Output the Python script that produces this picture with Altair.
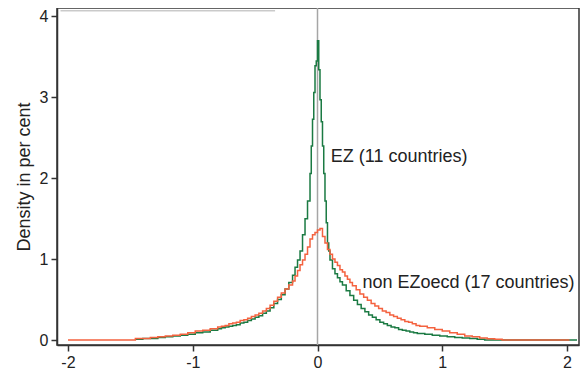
import altair as alt
import pandas as pd

# EZ (11 countries): step histogram, bin left edges and densities
ez_x = [-1.46, -1.40, -1.34, -1.28, -1.22, -1.16, -1.10, -1.04, -0.98, -0.92, -0.86,
        -0.80, -0.77, -0.74, -0.71, -0.68, -0.65, -0.62, -0.59, -0.56, -0.53,
        -0.50, -0.47, -0.44, -0.41, -0.38, -0.35, -0.32, -0.29, -0.26, -0.23,
        -0.20, -0.18, -0.16, -0.14, -0.12, -0.10, -0.08,
        -0.06, -0.05, -0.04, -0.03, -0.02, -0.01, 0.00, 0.01, 0.02, 0.03,
        0.04, 0.05, 0.06, 0.07, 0.08, 0.09,
        0.10, 0.12, 0.14, 0.16, 0.18,
        0.20, 0.23, 0.26, 0.29, 0.32, 0.35, 0.38, 0.41, 0.44, 0.47,
        0.50, 0.53, 0.56, 0.59, 0.62, 0.65, 0.68, 0.71, 0.74, 0.77,
        0.80, 0.86, 0.92, 0.98, 1.04, 1.10, 1.16, 1.22, 1.28, 1.34,
        2.08]
ez_y = [0.01, 0.02, 0.02, 0.03, 0.04, 0.05, 0.06, 0.07, 0.09, 0.10, 0.12,
        0.14, 0.15, 0.16, 0.17, 0.18, 0.19, 0.21, 0.22, 0.24, 0.26,
        0.28, 0.30, 0.33, 0.36, 0.40, 0.45, 0.50, 0.56, 0.63, 0.71,
        0.80, 0.90, 0.99, 1.10, 1.30, 1.50, 1.72,
        2.06, 2.40, 2.73, 3.06, 3.39, 3.45, 3.70, 3.34, 2.97, 2.70,
        2.40, 2.06, 1.72, 1.45, 1.20, 1.10,
        0.99, 0.88, 0.82, 0.77, 0.72,
        0.68, 0.61, 0.55, 0.49, 0.44, 0.39, 0.35, 0.31, 0.28, 0.25,
        0.22, 0.20, 0.18, 0.16, 0.15, 0.13, 0.12, 0.11, 0.10, 0.09,
        0.08, 0.07, 0.06, 0.05, 0.04, 0.03, 0.025, 0.02, 0.01, 0.0,
        0.0]

# non EZoecd (17 countries)
non_x = [-2.00,
         -1.46, -1.40, -1.34, -1.28, -1.22, -1.16, -1.10, -1.04, -0.98, -0.92, -0.86,
         -0.80, -0.77, -0.74, -0.71, -0.68, -0.65, -0.62, -0.59, -0.56, -0.53,
         -0.50, -0.47, -0.44, -0.41, -0.38, -0.35, -0.32, -0.29, -0.26, -0.23,
         -0.20, -0.18, -0.16, -0.14, -0.12, -0.10, -0.08, -0.06, -0.04, -0.02,
         0.00, 0.02, 0.04, 0.06, 0.08, 0.10, 0.12, 0.14, 0.16, 0.18,
         0.20, 0.22, 0.24, 0.26,
         0.28, 0.31, 0.34, 0.37, 0.40, 0.43, 0.46, 0.49, 0.52, 0.55,
         0.58, 0.61, 0.64, 0.67, 0.70, 0.73, 0.76, 0.79,
         0.82, 0.88, 0.94, 1.00, 1.06, 1.12, 1.18, 1.24, 1.30, 1.36, 1.42, 1.48,
         2.02]
non_y = [0.0,
         0.02, 0.02, 0.03, 0.04, 0.05, 0.06, 0.07, 0.09, 0.11, 0.12, 0.14,
         0.16, 0.17, 0.18, 0.20, 0.21, 0.22, 0.24, 0.25, 0.27, 0.29,
         0.31, 0.33, 0.36, 0.39, 0.43, 0.48, 0.53, 0.58, 0.63, 0.68,
         0.73, 0.79, 0.86, 0.93, 0.99, 1.06, 1.15, 1.25, 1.30, 1.33,
         1.36, 1.38, 1.28, 1.20, 1.12, 1.06, 1.00, 0.96, 0.92, 0.87,
         0.84, 0.79, 0.75, 0.71,
         0.67, 0.62, 0.57, 0.53, 0.49, 0.45, 0.42, 0.39, 0.36, 0.34,
         0.31, 0.29, 0.27, 0.25, 0.23, 0.22, 0.20, 0.18,
         0.17, 0.15, 0.13, 0.11, 0.09, 0.07, 0.05, 0.04, 0.025, 0.015, 0.01, 0.0,
         0.0]

labels = ["EZ (11 countries)", "non EZoecd (17 countries)"]
label_x = [0.107, 0.36]
label_y = [2.26, 0.70]

x_ticks = [-2, -1, 0, 1, 2]
y_ticks = [0, 1, 2, 3, 4]

top_line_x = [-2.06]
top_line_x2 = [-0.34]
top_line_y = [4.07]

FONT = "Liberation Sans"
GREEN = "#1b7a43"
RED = "#f4623f"

xs = alt.Scale(domain=[-2.088, 2.096], nice=False, zero=False)
ys = alt.Scale(domain=[-0.0618, 4.105], nice=False, zero=False)

x_axis = alt.Axis(values=x_ticks, title=None, grid=False, labelExpr="'' + datum.value")
y_axis = alt.Axis(values=y_ticks, title="Density in per cent", grid=False,
                  labelExpr="'' + datum.value")

ez_df = pd.DataFrame({"x": ez_x, "y": ez_y})
non_df = pd.DataFrame({"x": non_x, "y": non_y})
lab_df = pd.DataFrame({"label": labels, "x": label_x, "y": label_y})
top_df = pd.DataFrame({"x": top_line_x, "x2": top_line_x2, "y": top_line_y})

zero_rule = alt.Chart(pd.DataFrame({"x": [0]})).mark_rule(
    color="#a6a6a6", strokeWidth=1.5
).encode(x=alt.X("x:Q", scale=xs, axis=x_axis))

top_rule = alt.Chart(top_df).mark_rule(color="#b0b0b0", strokeWidth=1).encode(
    x=alt.X("x:Q", scale=xs, axis=x_axis),
    x2="x2:Q",
    y=alt.Y("y:Q", scale=ys, axis=y_axis),
)

ez_line = alt.Chart(ez_df).mark_line(
    interpolate="step-after", color=GREEN, strokeWidth=1.5
).encode(
    x=alt.X("x:Q", scale=xs, axis=x_axis),
    y=alt.Y("y:Q", scale=ys, axis=y_axis),
)

non_line = alt.Chart(non_df).mark_line(
    interpolate="step-after", color=RED, strokeWidth=1.5
).encode(
    x=alt.X("x:Q", scale=xs, axis=x_axis),
    y=alt.Y("y:Q", scale=ys, axis=y_axis),
)

texts = alt.Chart(lab_df).mark_text(
    align="left", baseline="middle", font=FONT, fontSize=18, color="#222222"
).encode(
    x=alt.X("x:Q", scale=xs, axis=x_axis),
    y=alt.Y("y:Q", scale=ys, axis=y_axis),
    text="label:N",
)

chart = alt.layer(zero_rule, top_rule, ez_line, non_line, texts).properties(
    width=522,
    height=337,
    autosize=alt.AutoSizeParams(type="none"),
    padding={"left": 49, "top": 0, "right": 1, "bottom": 25},
).configure_view(
    stroke="#333333", strokeWidth=1.5
).configure_axis(
    domainColor="#333333", domainWidth=1.5,
    tickColor="#333333", tickWidth=1.5, tickSize=6,
    labelColor="#222222", labelFont=FONT, labelFontSize=16, labelPadding=3,
    titleColor="#222222", titleFont=FONT, titleFontSize=18,
    titleFontWeight="normal", titlePadding=6,
)

chart.save("out.html", embed_options={"renderer": "svg", "actions": False})
